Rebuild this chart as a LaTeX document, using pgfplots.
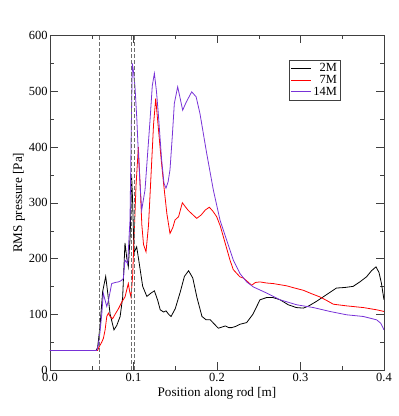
\documentclass[border=0pt]{standalone}
\usepackage{pgfplots}
\pgfplotsset{compat=1.18}
\usepackage{fontspec}
\setmainfont{Liberation Serif}
\definecolor{cpurple}{RGB}{120,50,215}
\definecolor{cdash}{RGB}{110,110,110}
\begin{document}
\begin{tikzpicture}
\begin{axis}[
  scale only axis, width=334bp, height=334.5bp,
  xmin=0, xmax=0.4, ymin=0, ymax=600,
  xtick={0,0.1,0.2,0.3,0.4}, ytick={0,100,200,300,400,500,600},
  minor x tick num=1, minor y tick num=1,
  tick align=inside, major tick length=8bp, minor tick length=4bp,
  xticklabel style={/pgf/number format/.cd,fixed,fixed zerofill,precision=1},
  /pgf/number format/assume math mode=true,
  ticklabel style={font=\fontsize{12.5}{14}\selectfont},
  yticklabel style={xshift=1bp},
  label style={font=\fontsize{13.2}{15}\selectfont},
  xlabel={Position along rod [m]}, ylabel={RMS pressure [Pa]},
  xlabel style={yshift=1.5bp}, ylabel style={yshift=-3bp},
  axis line style={black!75}, tick style={black!75},
  legend style={at={(0.716,0.927)}, anchor=north west, draw=black!75,
    font=\fontsize{12.5}{13}\selectfont, inner sep=1.5pt, row sep=-2pt,
    legend cell align=right},
  legend image code/.code={\draw[#1] (0cm,0cm) -- (0.7cm,0cm);},
]
\addplot[black, line width=0.8pt] coordinates {
(0,35) (0.055,35) (0.057,40) (0.060,80) (0.063,140) (0.0667,168) (0.069,140) (0.072,100) (0.0766,72) (0.080,80) (0.084,96) (0.087,130) (0.0898,228) (0.092,200) (0.0938,185) (0.096,240) (0.0978,347) (0.099,300) (0.1006,210) (0.1038,221) (0.107,190) (0.111,150) (0.116,132) (0.121,138) (0.125,142) (0.129,125) (0.132,108) (0.136,104) (0.139,106) (0.142,100) (0.145,96) (0.150,110) (0.156,140) (0.161,168) (0.166,178) (0.171,165) (0.176,130) (0.182,96) (0.187,90) (0.192,90) (0.197,82) (0.2016,75) (0.206,77) (0.21,79) (0.214,76) (0.2175,76) (0.222,78) (0.2275,82) (0.2355,85) (0.243,100) (0.2515,126) (0.2595,130) (0.267,130) (0.2754,126) (0.2854,117) (0.295,112) (0.3034,111) (0.31,115) (0.319,123) (0.331,135) (0.343,147) (0.353,148) (0.363,150) (0.371,158) (0.379,167) (0.385,178) (0.3904,185) (0.394,175) (0.397,155) (0.3985,140) (0.4,126)
};
\addlegendentry{2M}
\addplot[red, line width=0.8pt] coordinates {
(0,35) (0.057,35) (0.059,42) (0.062,50) (0.064,57) (0.066,72) (0.068,96) (0.070,102) (0.072,96) (0.075,92) (0.078,100) (0.082,110) (0.086,122) (0.0898,131) (0.0938,155) (0.0955,140) (0.097,131) (0.099,170) (0.101,250) (0.103,330) (0.1058,400) (0.108,330) (0.110,260) (0.112,225) (0.115,212) (0.118,260) (0.121,350) (0.124,440) (0.1266,487) (0.130,430) (0.133,380) (0.136,335) (0.140,280) (0.1437,245) (0.147,255) (0.1497,269) (0.154,275) (0.1585,300) (0.162,293) (0.1657,286) (0.170,280) (0.1757,272) (0.181,278) (0.186,287) (0.1908,292) (0.195,285) (0.1996,275) (0.204,258) (0.2076,239) (0.2116,218) (0.2156,197) (0.2195,180) (0.2275,167) (0.2315,165) (0.237,158) (0.2415,152) (0.246,157) (0.2515,158) (0.2595,156) (0.2675,155) (0.2754,153) (0.2834,151) (0.293,147) (0.3034,143) (0.313,137) (0.3234,131) (0.331,125) (0.3393,118) (0.3553,115) (0.3752,112) (0.3912,108) (0.4,105)
};
\addlegendentry{7M}
\addplot[cpurple, line width=0.8pt] coordinates {
(0,35) (0.056,35) (0.058,45) (0.060,70) (0.062,100) (0.0638,138) (0.066,125) (0.068,114) (0.070,125) (0.0739,155) (0.078,157) (0.0818,158) (0.085,160) (0.0878,164) (0.0898,197) (0.093,191) (0.0958,269) (0.0975,450) (0.0986,550) (0.1,535) (0.1018,508) (0.104,450) (0.1058,389) (0.108,330) (0.1098,287) (0.1138,323) (0.117,390) (0.1198,448) (0.1225,510) (0.125,532) (0.1275,500) (0.1297,460) (0.1337,377) (0.1365,335) (0.1389,326) (0.1415,338) (0.1437,359) (0.1465,420) (0.1489,478) (0.1529,508) (0.1555,490) (0.1589,466) (0.163,480) (0.1697,499) (0.175,490) (0.1796,460) (0.1876,389) (0.1956,323) (0.2036,269) (0.2116,233) (0.2196,197) (0.2275,173) (0.2355,158) (0.2435,149) (0.2595,138) (0.2754,126) (0.2954,117) (0.3154,112) (0.3353,105) (0.3553,99) (0.3752,96) (0.3912,90) (0.396,84) (0.4,72)
};
\addlegendentry{14M}
\addplot[cdash, dash pattern=on 4bp off 2bp, line width=0.6pt, forget plot] coordinates {(0.059,0) (0.059,600)};
\addplot[cdash, dash pattern=on 4bp off 2bp, line width=0.6pt, forget plot] coordinates {(0.0975,0) (0.0975,600)};
\addplot[cdash, dash pattern=on 4bp off 2bp, line width=0.6pt, forget plot] coordinates {(0.1015,0) (0.1015,600)};
\end{axis}
\path (0,0) ++(-50bp,-46bp) rectangle ++(399bp,416bp);
\end{tikzpicture}
\end{document}
